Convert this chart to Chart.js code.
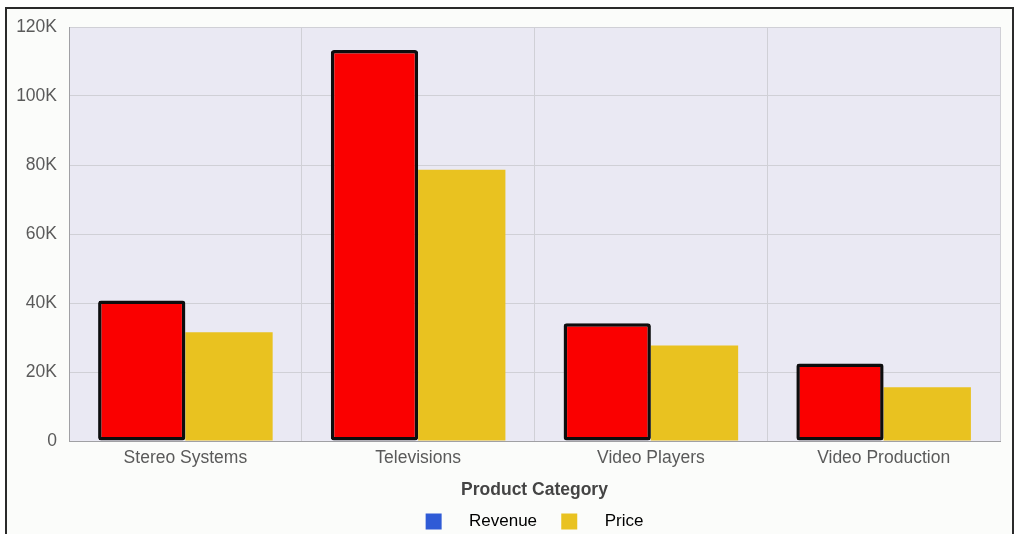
<!DOCTYPE html>
<html>
<head>
<meta charset="utf-8">
<script src="https://cdn.jsdelivr.net/npm/chart.js@4/dist/chart.umd.min.js"></script>
<style>
  html, body { margin: 0; padding: 0; background: #ffffff; overflow: hidden; }
  #frame {
    position: absolute; left: 5px; top: 7px;
    width: 1005px; height: 540px;
    border: 2px solid #2a2a2a;
    background: #fbfcfa;
  }
  #chart { position: absolute; left: 0; top: 0; }
</style>
</head>
<body>
<div id="frame"><canvas id="chart" width="1005" height="531"></canvas></div>
<script>
const CATEGORIES = ['Stereo Systems', 'Televisions', 'Video Players', 'Video Production'];
const REVENUE = [40700, 113300, 34100, 22500];
const PRICE = [31500, 78600, 27700, 15600];
const SERIES_NAMES = ['Revenue', 'Price'];

const RED = '#fa0000';
const YELLOW = '#e9c220';
const BLUE = '#2f5bd6';
const TEXT = '#5a5a5a';

// fills the plot area before the grid is drawn
const plotBackground = {
  id: 'plotBackground',
  beforeDraw(chart) {
    let { ctx, chartArea: a } = chart;
    ctx.save();
    ctx.fillStyle = '#eae9f3';
    ctx.fillRect(a.left, a.top, a.right - a.left, a.bottom - a.top);
    ctx.restore();
  },
};

new Chart(document.getElementById('chart'), {
  type: 'bar',
  data: {
    labels: CATEGORIES,
    datasets: [
      {
        label: SERIES_NAMES[0],
        data: REVENUE,
        backgroundColor: RED,
        borderColor: '#0d0d0d',
        borderWidth: 3.5,
        borderRadius: 3,
        borderSkipped: false,
      },
      {
        label: SERIES_NAMES[1],
        data: PRICE,
        backgroundColor: YELLOW,
        borderWidth: 0,
      },
    ],
  },
  options: {
    responsive: false,
    animation: false,
    datasets: { bar: { categoryPercentage: 0.75, barPercentage: 1 } },
    layout: { padding: { top: 18, right: 12, left: 0, bottom: 0 } },
    font: { family: '"Liberation Sans", Arial, sans-serif', size: 17 },
    scales: {
      x: {
        grid: { color: '#d0d0d6', drawTicks: false, offset: true },
        border: { color: '#a0a0a4', width: 1 },
        ticks: { color: TEXT, padding: 7, font: { size: 17.5 } },
        title: {
          display: true,
          text: 'Product Category',
          color: '#444444',
          font: { size: 17.5, weight: 'bold' },
          padding: { top: 0, bottom: 2 },
        },
        afterFit(scale) { scale.height = 62; },
      },
      y: {
        min: 0,
        max: 120000,
        grid: { color: '#d0d0d6', drawTicks: false },
        border: { color: '#a0a0a4', width: 1 },
        ticks: {
          stepSize: 20000,
          color: TEXT,
          padding: 12,
          font: { size: 17.5 },
          callback: v => (v === 0 ? '0' : v / 1000 + 'K'),
        },
        afterFit(scale) {
          scale.width = 62;
          scale.paddingTop = 0;
          scale.paddingBottom = 0;
        },
      },
    },
    plugins: {
      tooltip: { enabled: false },
      legend: {
        position: 'bottom',
        fullSize: false,
        labels: {
          boxWidth: 16,
          boxHeight: 16,
          padding: 10,
          color: TEXT,
          font: { size: 17 },
          generateLabels: () => [
            { text: '    ' + SERIES_NAMES[0] + '   ', fillStyle: BLUE, strokeStyle: BLUE, lineWidth: 0, datasetIndex: 0 },
            { text: '    ' + SERIES_NAMES[1], fillStyle: YELLOW, strokeStyle: YELLOW, lineWidth: 0, datasetIndex: 1 },
          ],
        },
      },
    },
  },
  plugins: [plotBackground],
});
</script>
</body>
</html>
